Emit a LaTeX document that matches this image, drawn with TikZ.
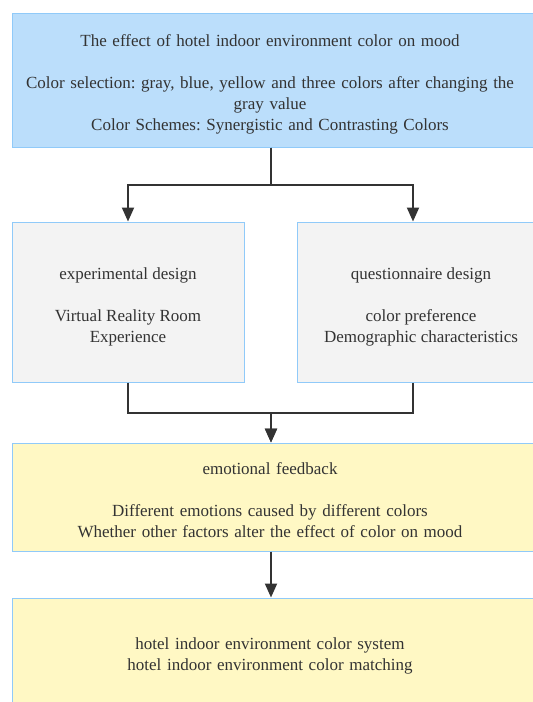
\documentclass[tikz,border=0pt]{standalone}
\usepackage{fontspec}
\setmainfont{Liberation Serif}
\usepackage{tikz}
\usetikzlibrary{arrows.meta}
\definecolor{edge}{RGB}{144, 202, 249}
\definecolor{sky}{RGB}{187, 222, 251}
\definecolor{pale}{RGB}{243, 243, 243}
\definecolor{cream}{RGB}{255, 248, 196}
\definecolor{ink}{RGB}{51, 51, 51}
\newcommand{\lead}[1]{\rule{0pt}{#1}}

\begin{document}
\begin{tikzpicture}[x=1pt, y=-1pt, font=\fontsize{17}{21}\selectfont,
  box/.style={draw=edge, line width=1pt, align=center, text=ink, inner sep=0pt},
  wide/.style={draw=edge, line width=1pt, text=ink, inner sep=0pt,
    text width=525pt, minimum width=525pt,
    execute at begin node={\centering\frenchspacing\rightskip=9pt plus 1fil\relax}},
  link/.style={draw=ink, line width=2pt, -{Triangle[length=14pt, width=12pt]}}]
  \useasboundingbox (0, 0) rectangle (533, 702);

  \node[wide, fill=sky, minimum height=134pt] (aim) at (274.5, 80)
    { \lead{21pt}The effect of hotel indoor environment color on mood \\[21pt]
      Color selection: gray, blue, yellow and three colors after changing the \\
      gray value \\
      Color Schemes: Synergistic and Contrasting Colors };

  \node[box, fill=pale, minimum width=232pt, minimum height=160pt] (exp) at (128, 302)
    { \lead{21pt}experimental design \\[21pt] Virtual Reality Room \\ Experience };
  \node[box, fill=pale, minimum width=248pt, minimum height=160pt] (quest) at (421, 302)
    { \lead{21pt}questionnaire design \\[21pt] color preference \\ Demographic characteristics };

  \node[wide, fill=cream, minimum height=108pt] (feed) at (274.5, 497)
    { \lead{18pt}emotional feedback \\[21pt]
      Different emotions caused by different colors \\
      Whether other factors alter the effect of color on mood };

  \node[wide, fill=cream, minimum height=112pt] (result) at (274.5, 654)
    { \lead{16pt}hotel indoor environment color system \\
      hotel indoor environment color matching };

  \draw[link] ([xshift=-3.5pt]aim.south) -- ++(0, 37) -| (exp.north);
  \draw[link] ([xshift=-3.5pt]aim.south) -- ++(0, 37) -| ([xshift=-8pt]quest.north);
  \draw[link] (exp.south) -- ++(0, 30) -| ([xshift=-3.5pt]feed.north);
  \draw[link] ([xshift=-8pt]quest.south) -- ++(0, 30) -| ([xshift=-3.5pt]feed.north);
  \draw[link] ([xshift=-3.5pt]feed.south) -- ([xshift=-3.5pt]result.north);
\end{tikzpicture}
\end{document}
